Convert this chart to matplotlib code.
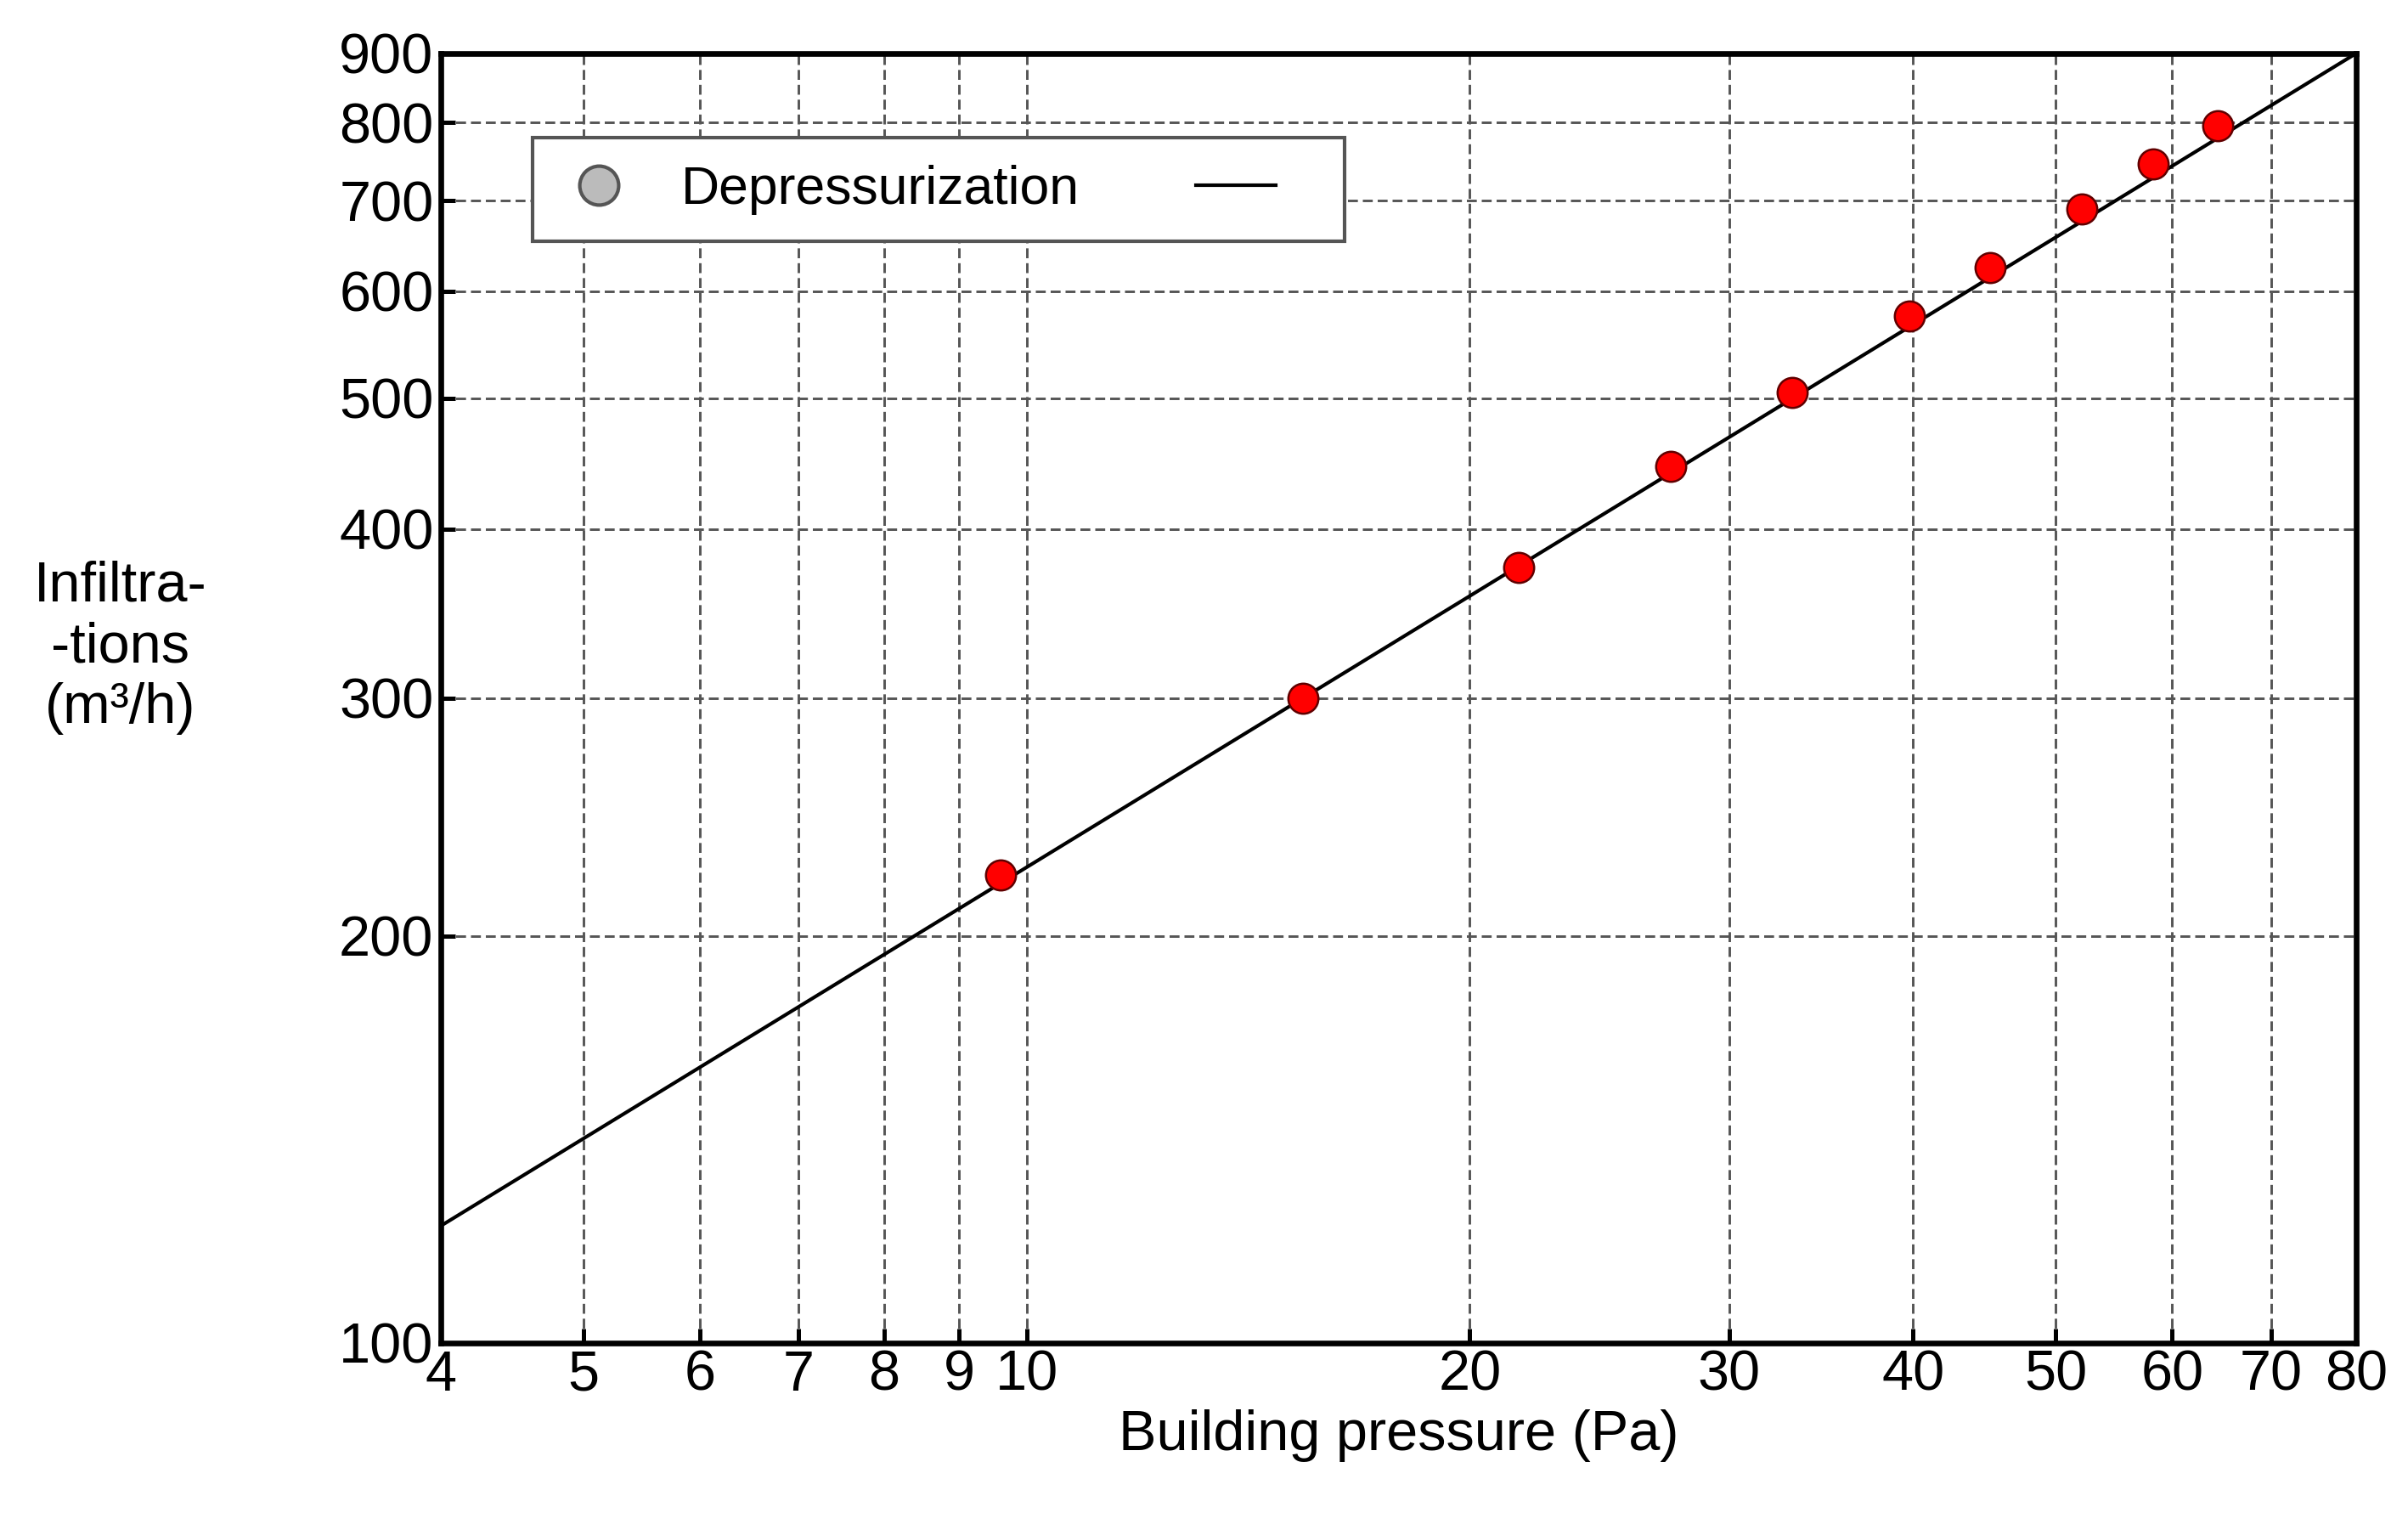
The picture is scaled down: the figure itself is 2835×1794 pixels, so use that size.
import matplotlib
matplotlib.use("Agg")
import matplotlib.pyplot as plt
from matplotlib.lines import Line2D
from matplotlib.ticker import FixedLocator, NullLocator, FixedFormatter

pressure = [9.6, 15.4, 21.6, 27.4, 33.1, 39.8, 45.1, 52.1, 58.2, 64.4]
flow = [222, 300, 375, 445, 505, 575, 625, 690, 745, 795]
fit_x = [4, 80]
fit_y = [122, 900]
xticks = [4, 5, 6, 7, 8, 9, 10, 20, 30, 40, 50, 60, 70, 80]
yticks = [100, 200, 300, 400, 500, 600, 700, 800, 900]

plt.rcParams['font.family'] = ['Liberation Sans', 'DejaVu Sans']
fig = plt.figure(figsize=(9.45, 5.98), dpi=300)
ax = fig.add_axes([0.183, 0.119, 0.7955, 0.846])
ax.set_xscale('log'); ax.set_yscale('log')
ax.set_xlim(4, 80); ax.set_ylim(100, 900)
ax.plot(fit_x, fit_y, color='black', lw=1)
ax.plot(pressure, flow, 'o', color='red', mec='#600000', mew=0.6, ms=8.5, zorder=5)
ax.xaxis.set_major_locator(FixedLocator(xticks))
ax.xaxis.set_major_formatter(FixedFormatter([str(v) for v in xticks]))
ax.xaxis.set_minor_locator(NullLocator())
ax.yaxis.set_major_locator(FixedLocator(yticks))
ax.yaxis.set_major_formatter(FixedFormatter([str(v) for v in yticks]))
ax.yaxis.set_minor_locator(NullLocator())
ax.grid(True, color='#555555', ls=(0, (4, 2)), lw=0.7)
ax.tick_params(direction='in', labelsize=16, length=4, width=1.2, pad=2)
for s in ax.spines.values():
    s.set_linewidth(1.6)
ax.set_xlabel('Building pressure (Pa)', fontsize=16, labelpad=2)
fig.text(0.05, 0.575, 'Infiltra-\n-tions\n(m³/h)', ha='center', va='center', fontsize=16, linespacing=1.2)
h1 = Line2D([], [], marker='o', ls='none', color='#bbbbbb', mec='#555555', ms=11)
h2 = Line2D([], [], color='black', lw=1)
leg = ax.legend([h1, h2], ['Depressurization', ''], ncol=2, loc='upper left',
                bbox_to_anchor=(0.034, 0.955), fancybox=False, edgecolor='#555555',
                fontsize=15, framealpha=1, handlelength=1.5, columnspacing=2.2,
                borderpad=0.5)
leg.get_frame().set_linewidth(1)
fig.savefig('out.png', dpi=300)
